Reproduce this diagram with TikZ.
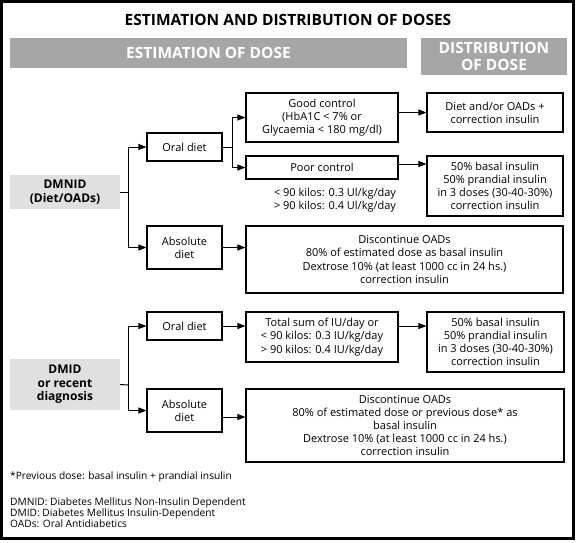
\documentclass[tikz,border=0pt]{standalone}
\usepackage{fontspec}
\setmainfont{Open Sans}
\usetikzlibrary{arrows.meta,calc}
\definecolor{barg}{RGB}{166,166,166}
\definecolor{lightg}{RGB}{224,224,224}
\newcommand\myBody{\fontsize{11}{13.2}\selectfont}
\newcommand\mySmall{\fontsize{10.2}{11}\selectfont}
\newcommand\myCat{\fontsize{12}{13.5}\selectfont\bfseries}
\newcommand\myBar{\fontsize{15.5}{17}\selectfont\bfseries}
\newcommand\myTitle{\fontsize{15.5}{17}\selectfont\bfseries}
\begin{document}
\begin{tikzpicture}[x=1pt,y=-1pt,
  box/.style={draw, line width=1.1pt, align=center, inner sep=0pt, font=\myBody},
  conn/.style={line width=1pt},
  arr/.style={conn, -{Triangle[length=8pt,width=6pt]}},
  bar/.style={fill=barg, text=white, font=\myBar, align=center, inner sep=0pt},
  catbox/.style={fill=lightg, font=\myCat, align=center, inner sep=0pt},
  plain/.style={font=\myBody, align=center, inner sep=0pt},
  note/.style={font=\mySmall, align=left, inner sep=0pt, anchor=west},
]
\useasboundingbox (0,0) rectangle (576,542);
\draw[line width=3pt] (1.5,1.5) rectangle (573.5,538.5);

% headings
\node[font=\myTitle, inner sep=0pt] (title) at (288,20) {ESTIMATION AND DISTRIBUTION OF DOSES};
\node[bar, minimum width=397pt, minimum height=30pt] (bar1) at (208.5,53) {ESTIMATION OF DOSE};
\node[bar, minimum width=146pt, minimum height=37pt] (bar2) at (494,56.5) {DISTRIBUTION\\OF DOSE};

% upper section
\node[catbox, minimum width=110pt, minimum height=34pt] (dmnid) at (65,192) {DMNID\\(Diet/OADs)};
\node[box, minimum width=75pt, minimum height=28pt] (od1) at (184.5,147) {Oral diet};
\node[box, minimum width=75pt, minimum height=43pt] (ad1) at (184.5,247.5) {Absolute\\diet};
\node[box, minimum width=152pt, minimum height=49pt] (gc) at (322,117.5) {Good control\\(HbA1C < 7\% or\\Glycaemia < 180 mg/dl)};
\node[box, minimum width=152pt, minimum height=23pt] (pc) at (322,167.5) {Poor control};
\node[plain] (kg) at (335,200.5) {< 90 kilos: 0.3 Ul/kg/day\\> 90 kilos: 0.4 Ul/kg/day};
\node[box, minimum width=136pt, minimum height=39pt] (dt) at (495,112.5) {Diet and/or OADs +\\correction insulin};
\node[box, minimum width=136pt, minimum height=60pt] (fb1) at (495,186) {50\% basal insulin\\50\% prandial insulin\\in 3 doses (30-40-30\%)\\correction insulin};
\node[box, minimum width=317pt, minimum height=67pt] (bb1) at (404.5,259.5) {Discontinue OADs\\80\% of estimated dose as basal insulin\\Dextrose 10\% (at least 1000 cc in 24 hs.)\\correction insulin};

\coordinate (j1) at (128,192);
\draw[conn] (dmnid.east) -- (j1);
\draw[arr] (j1) |- (od1.west);
\draw[arr] (j1) |- (ad1.west);
\coordinate (j2) at (232,147);
\draw[conn] (od1.east) -- (j2);
\draw[arr] (j2) |- (gc.west);
\draw[arr] (j2) |- (pc.west);
\draw[arr] (gc.east |- dt.west) -- (dt.west);
\coordinate (p1) at ([yshift=3.5pt]pc.east);
\draw[arr] (p1) -- (fb1.west |- p1);
\draw[arr] (ad1.east) -- (bb1.west |- ad1.east);

% lower section
\node[catbox, minimum width=110pt, minimum height=51pt] (dmid) at (65,384.5) {DMID\\or recent\\diagnosis};
\node[box, minimum width=75pt, minimum height=28pt] (od2) at (184.5,326) {Oral diet};
\node[box, minimum width=75pt, minimum height=43pt] (ad2) at (184.5,410.5) {Absolute\\diet};
\node[box, minimum width=152pt, minimum height=50pt] (ts) at (322,337) {Total sum of IU/day or\\< 90 kilos: 0.3 IU/kg/day\\> 90 kilos: 0.4 IU/kg/day};
\node[box, minimum width=137pt, minimum height=60pt] (fb2) at (495.5,342) {50\% basal insulin\\50\% prandial insulin\\in 3 doses (30-40-30\%)\\correction insulin};
\node[box, minimum width=318pt, minimum height=73pt] (bb2) at (405,425.5) {Discontinue OADs\\80\% of estimated dose or previous dose* as\\basal insulin\\Dextrose 10\% (at least 1000 cc in 24 hs.)\\correction insulin};

\coordinate (j3) at (128,385);
\draw[conn] (dmid.east) -- (j3);
\draw[arr] (j3) |- (od2.west);
\draw[arr] (j3) |- (ad2.west);
\draw[arr] (od2.east) -- (ts.west |- od2.east);
\draw[arr] (ts.east |- od2.east) -- (fb2.west |- od2.east);
\coordinate (p2) at ([yshift=-6.5pt]ad2.east);
\draw[arr] (p2) -- (bb2.west |- p2);

% notes
\node[note] (fn) at (10,477) {*Previous dose: basal insulin + prandial insulin};
\node[note] (ab) at (10,513) {DMNID: Diabetes Mellitus Non-Insulin Dependent\\DMID: Diabetes Mellitus Insulin-Dependent\\OADs: Oral Antidiabetics};
\end{tikzpicture}
\end{document}
